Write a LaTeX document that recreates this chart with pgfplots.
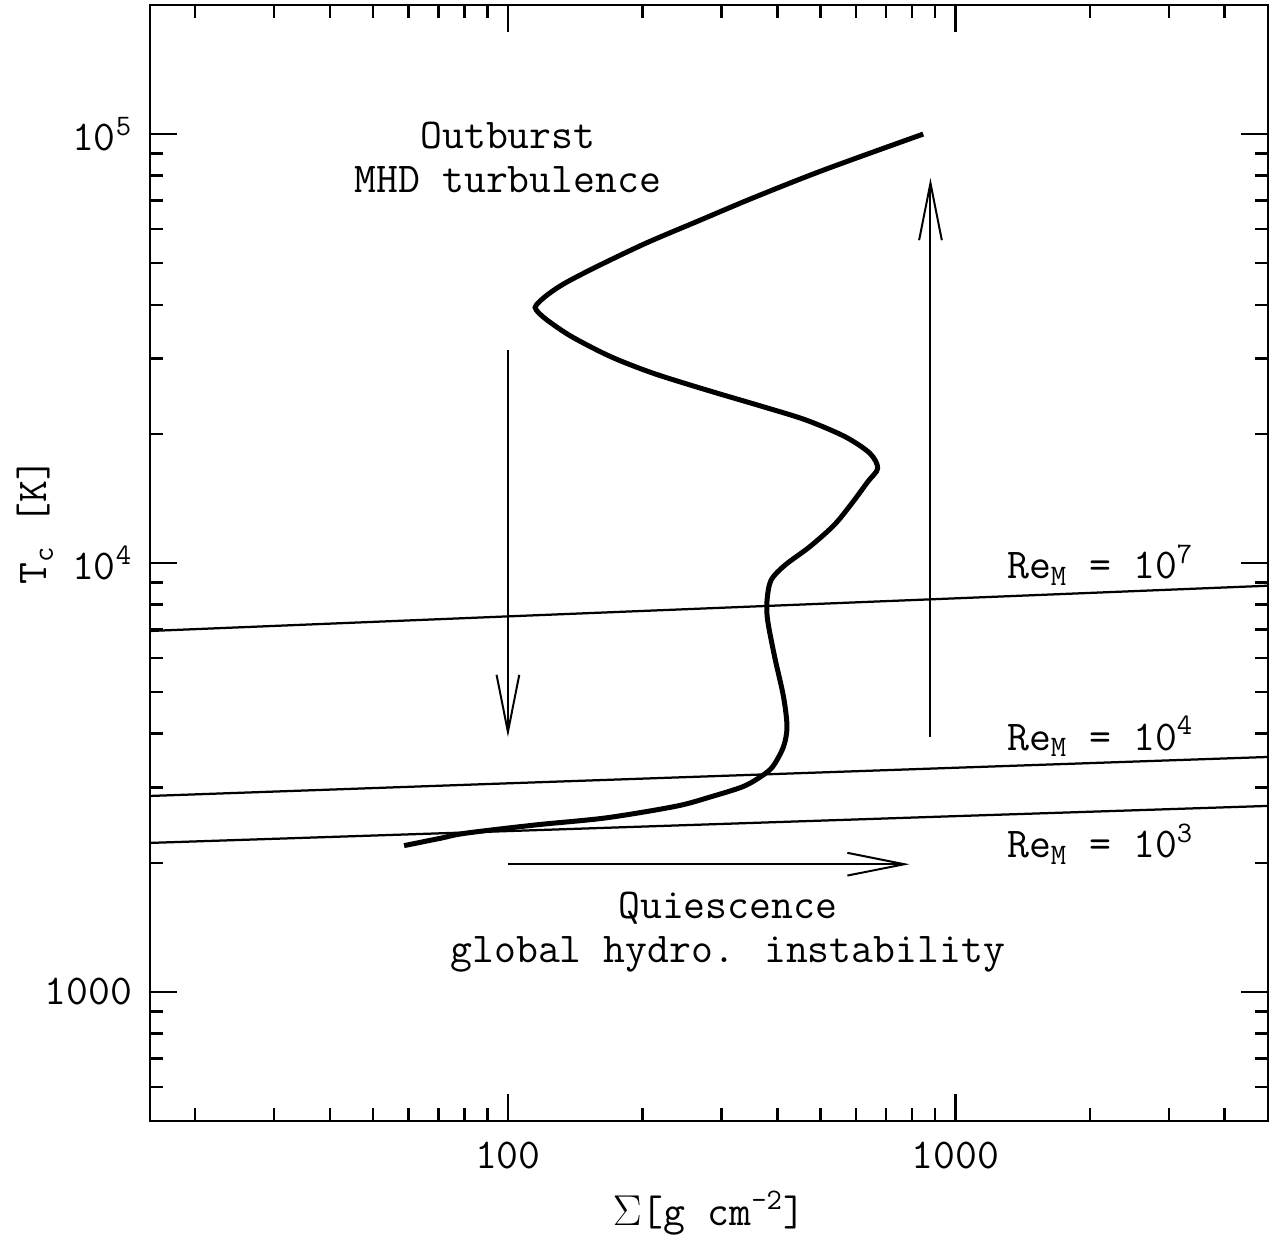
\documentclass[border=0pt]{standalone}
\usepackage{fontspec}
\usepackage{pgfplots}
\pgfplotsset{compat=1.18}
\usetikzlibrary{arrows.meta}

\begin{document}
\begin{tikzpicture}[font=\fontsize{17}{17.6}\selectfont\ttfamily]
\path[use as bounding box] (-60pt,-47.2pt) rectangle (450pt,448.4pt);
\begin{loglogaxis}[
  at={(0,0)}, anchor=south west,
  scale only axis, width=447.2pt, height=446.4pt,
  xmin=15.85, xmax=5000, ymin=500, ymax=2e5,
  xtick={100,1000}, xticklabels={100,1000},
  minor xtick={20,30,40,50,60,70,80,90,200,300,400,500,600,700,800,900,2000,3000,4000},
  ytick={1000,10000,100000}, yticklabels={1000,10\textsuperscript{4},10\textsuperscript{5}},
  minor ytick={600,700,800,900,2000,3000,4000,5000,6000,7000,8000,9000,20000,30000,40000,50000,60000,70000,80000,90000},
  tick align=inside,
  major tick length=10.8pt, minor tick length=5.2pt,
  every tick/.style={black, line width=1pt},
  axis line style={line width=1.1pt},
  ticklabel style={font=\fontsize{17}{17.6}\selectfont\ttfamily},
  xticklabel shift=5pt,
  yticklabel shift=3.5pt,
  xlabel={$\Sigma$[g cm\textsuperscript{-2}]},
  ylabel={T\textsubscript{c} [K]},
  xlabel style={at={(axis description cs:0.5,-0.0824)}, anchor=center},
  ylabel style={at={(axis description cs:-0.1029,0.537)}, anchor=center},
]
% S-curve
\addplot[black, line width=2pt, smooth] coordinates {
(58.6,2193) (70.8,2282) (80.4,2344) (115.5,2451) (165.6,2545) (237.8,2710)
(285.1,2853) (335.3,3010) (367.4,3176) (390.8,3351) (413.0,3731) (420.5,4153)
(413.0,4880) (394.6,6047) (380.6,7366) (379.6,8201) (387.6,9129) (416.6,9893)
(472.9,10914) (536.2,12264) (587.4,13783) (637.4,15472) (670.6,16627) (644.2,18021)
(567.0,19699) (463.7,21544) (372.3,23132) (278.0,25312) (211.3,27688) (169.8,30267)
(138.9,33698) (122.3,36854) (115.7,38886) (115.7,39942) (122.3,42135) (133.9,44875)
(157.8,49057) (203.6,55690) (268.1,62900) (352.5,70940) (507.8,82450) (847.8,100000)
};
% Re_M lines
\addplot[black, line width=0.9pt] coordinates {(15.85,6942) (100,7508) (1000,8271) (5000,8851)};
\addplot[black, line width=0.9pt] coordinates {(15.85,2863) (100,3064) (1000,3331) (5000,3530)};
\addplot[black, line width=0.9pt] coordinates {(15.85,2225) (100,2371) (1000,2569) (5000,2714)};
% arrows
\draw[line width=0.8pt, -{Straight Barb[length=22.8pt, width=9.1pt]}] (axis cs:100,31370) -- (axis cs:100,3931);
\draw[line width=0.8pt, -{Straight Barb[length=22.8pt, width=9.1pt]}] (axis cs:880,3931) -- (axis cs:880,78970);
\draw[line width=0.8pt, -{Straight Barb[length=22.8pt, width=9.1pt]}] (axis cs:100,1985) -- (axis cs:790,1985);
% annotations
\node[align=center] at (axis cs:100,88330) {Outburst\\MHD turbulence};
\node[align=center] at (axis cs:310,1380) {Quiescence\\global hydro. instability};
\node[anchor=base west] at (axis cs:1248,9178) {Re\textsubscript{M} = 10\textsuperscript{7}};
\node[anchor=base west] at (axis cs:1248,3664) {Re\textsubscript{M} = 10\textsuperscript{4}};
\node[anchor=base west] at (axis cs:1248,2054) {Re\textsubscript{M} = 10\textsuperscript{3}};
\end{loglogaxis}
\end{tikzpicture}
\end{document}
